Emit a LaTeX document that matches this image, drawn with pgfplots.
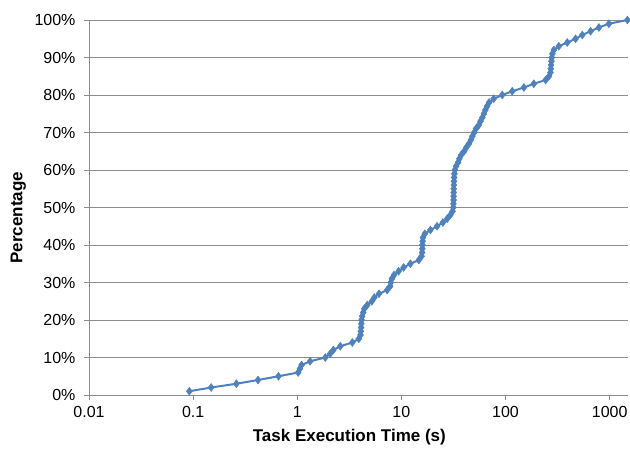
\documentclass[border=0pt]{standalone}
\usepackage{pgfplots}
\pgfplotsset{compat=1.18}
\usepackage{fontspec}
\setmainfont{Liberation Sans}
\definecolor{seriesblue}{HTML}{4F81BD}
\definecolor{gridgray}{HTML}{8C8C8C}

\begin{document}
\begin{tikzpicture}
\useasboundingbox (0,0) rectangle (630pt,448pt);
\begin{axis}[
  at={(89pt,53pt)}, anchor=south west,
  scale only axis, width=539pt, height=375pt,
  xmode=log, xmin=0.01, xmax=1500,
  ymin=0, ymax=100,
  xtick={0.01,0.1,1,10,100,1000},
  xticklabels={0.01,0.1,1,10,100,1000},
  xminorticks=false,
  ytick={0,10,...,100},
  yticklabels={0\%,10\%,20\%,30\%,40\%,50\%,60\%,70\%,80\%,90\%,100\%},
  axis lines*=left,
  axis line style={draw=gridgray, line width=0.8pt},
  tick style={draw=gridgray, line width=0.8pt},
  tick align=outside, major tick length=5pt,
  ymajorgrids, grid style={draw=gridgray, line width=0.8pt},
  tick label style={font=\fontsize{16}{16}\selectfont},
  xticklabel style={yshift=-3pt},
  yticklabel style={xshift=-5pt},
  xlabel={Task Execution Time (s)},
  ylabel={Percentage},
  label style={font=\fontsize{17}{17}\selectfont\bfseries},
  xlabel style={at={(axis description cs:0.483,-0.112)}, anchor=center},
  ylabel style={at={(axis description cs:-0.131,0.473)}, anchor=center, rotate=0},
]
\addplot[color=seriesblue, line width=2pt, mark=diamond*, mark size=4pt,
  mark options={fill=seriesblue, draw=seriesblue, line width=0.4pt}]
table[x=t, y=p] {
t p
0.092 1
0.149 2
0.26 3
0.42 4
0.66 5
1.02 6
1.06 7
1.10 8
1.33 9
1.86 10
2.07 11
2.22 12
2.59 13
3.38 14
3.90 15
4.05 16
4.08 17
4.10 18
4.12 19
4.15 20
4.20 21
4.30 22
4.40 23
4.70 24
5.20 25
5.50 26
6.10 27
7.30 28
7.80 29
7.90 30
8.10 31
8.50 32
9.40 33
10.5 34
12.2 35
14.7 36
15.6 37
15.8 38
15.9 39
15.9 40
16.0 41
16.1 42
16.8 43
19.0 44
22.0 45
25.0 46
27.5 47
29.5 48
31.0 49
31.5 50
31.6 51
31.7 52
31.7 53
31.8 54
31.8 55
31.9 56
32.0 57
32.1 58
32.3 59
32.6 60
33.5 61
35.0 62
36.0 63
37.5 64
40.0 65
42.0 66
44.5 67
46.5 68
48.0 69
50.0 70
52.0 71
55.5 72
57.5 73
60.0 74
62.0 75
64.0 76
66.5 77
69.5 78
77.0 79
93.0 80
116 81
150 82
187 83
243 84
261 85
270 86
272 87
274 88
276 89
278 90
282 91
291 92
325 93
392 94
471 95
546 96
656 97
788 98
984 99
1480 100
};
\end{axis}
\end{tikzpicture}
\end{document}
